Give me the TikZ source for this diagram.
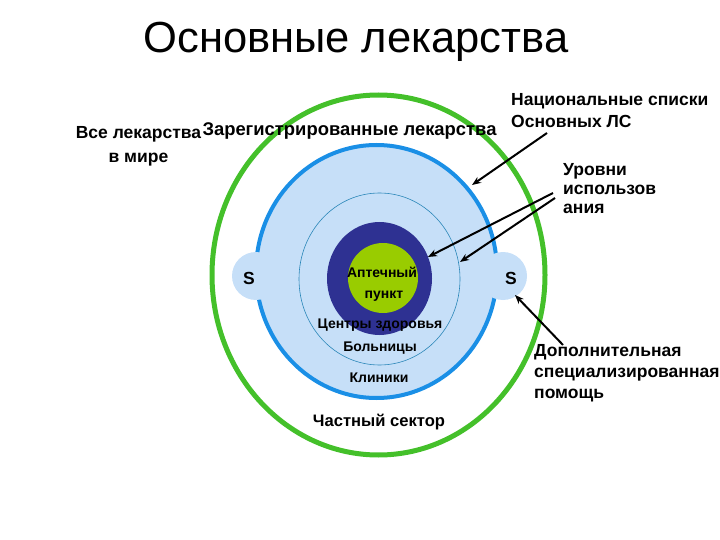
\documentclass[tikz,border=0pt]{standalone}
\usepackage{fontspec}
\setmainfont{Liberation Sans}
\usetikzlibrary{arrows.meta}
\definecolor{ringgreen}{HTML}{44C02A}
\definecolor{ringblue}{HTML}{1A8FE6}
\definecolor{lightfill}{HTML}{C6DFF8}
\definecolor{darkcore}{HTML}{2E3192}
\definecolor{corelime}{HTML}{99CC00}
\definecolor{thinline}{HTML}{2A86B8}
\tikzset{
  lbl/.style={font=\fontsize{17.5}{22}\selectfont\bfseries, inner sep=0pt},
  lblleft/.style={lbl, align=left, anchor=west},
  inlbl/.style={font=\fontsize{14}{16}\selectfont\bfseries, inner sep=0pt},
  arr/.style={line width=2pt, -{Stealth[length=9pt,width=7pt]}},
}
\begin{document}
\begin{tikzpicture}[x=1pt,y=-1pt]
\useasboundingbox (0,0) rectangle (720,540);
% outer green ellipse
\draw[ringgreen, line width=5pt] (378.5,275) ellipse [x radius=166.5, y radius=180];
% blue ellipse
\draw[ringblue, line width=4pt, fill=lightfill] (376.5,271.5) ellipse [x radius=120.5, y radius=126.5];
% S bumps
\fill[lightfill] (256,276) circle [radius=24];
\fill[lightfill] (503,276) circle [radius=24];
% thin circle
\draw[thinline, line width=0.6pt] (379.5,279) ellipse [x radius=80.5, y radius=86];
% dark core
\fill[darkcore] (379.5,278.5) ellipse [x radius=52.5, y radius=56.5];
\fill[corelime] (383,278) circle [radius=35];
% title
\node[font=\fontsize{43.5}{50}\selectfont, inner sep=0pt] (title) at (356,42) {Основные лекарства};
% labels
\node[lbl, align=center, font=\fontsize{17.5}{24}\selectfont\bfseries] (all) at (138.5,146) {Все лекарства\\в мире};
\node[lbl, font=\fontsize{18.4}{22}\selectfont\bfseries] (reg) at (349.5,131) {Зарегистрированные лекарства};
\node[lblleft] (nat) at (511,111) {Национальные списки\\Основных ЛС};
\node[lblleft, font=\fontsize{17.5}{19}\selectfont\bfseries] (lvl) at (563,189) {Уровни\\использов\\ания};
\node[lblleft, font=\fontsize{17.5}{21}\selectfont\bfseries] (add) at (534,373) {Дополнительная\\специализированная\\помощь};
\node[lbl] (sl) at (249,278) {S};
\node[lbl] (sr) at (511,278) {S};
\node[inlbl] (ap1) at (382,272) {Аптечный};
\node[inlbl] (ap2) at (384,296) {пункт};
\node[inlbl] (cz) at (380,325) {Центры здоровья};
\node[inlbl] (bol) at (380,348) {Больницы};
\node[inlbl] (kl) at (379,378) {Клиники};
\node[font=\fontsize{16.6}{20}\selectfont\bfseries, inner sep=0pt] (ch) at (379,422) {Частный сектор};
% arrow endpoints
\coordinate (a1s) at (547,133);
\coordinate (a1e) at (472,185);
\coordinate (a2s) at (553,193);
\coordinate (a2e) at (428,257);
\coordinate (a3s) at (555,198);
\coordinate (a3e) at (460,262);
\coordinate (a4s) at (563,345);
\coordinate (a4e) at (515,295);
\draw[arr] (a1s) -- (a1e);
\draw[arr] (a2s) -- (a2e);
\draw[arr] (a3s) -- (a3e);
\draw[arr] (a4s) -- (a4e);
\end{tikzpicture}
\end{document}
